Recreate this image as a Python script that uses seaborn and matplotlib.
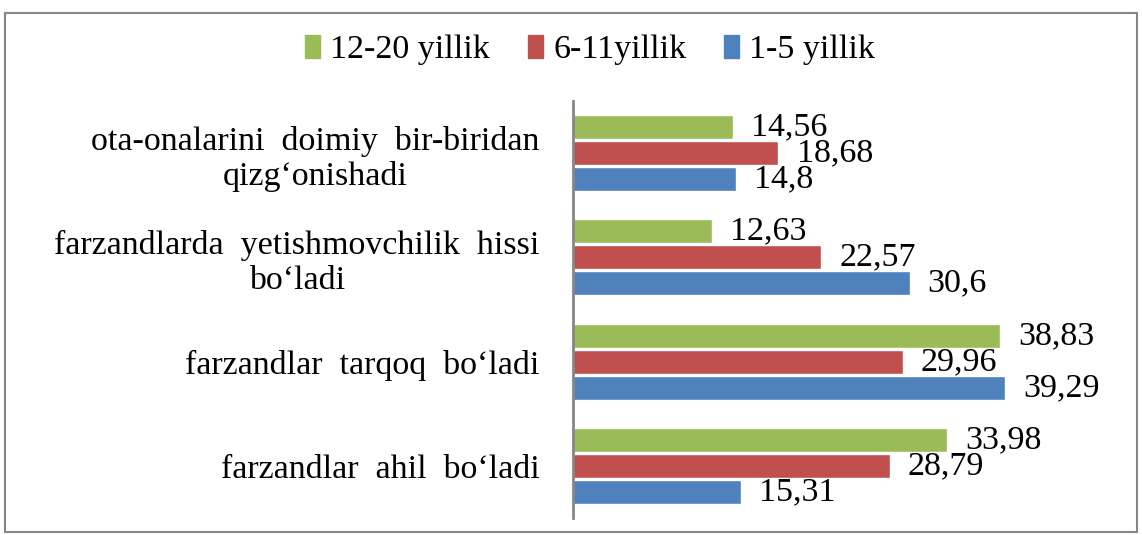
import matplotlib
matplotlib.use("Agg")
import matplotlib.pyplot as plt
import seaborn as sns
import pandas as pd
from matplotlib.patches import Rectangle

# data
kategoriyalar = [
    "ota-onalarini  doimiy  bir-biridan\nqizg\u2018onishadi",
    "farzandlarda  yetishmovchilik  hissi\nbo\u2018ladi",
    "farzandlar  tarqoq  bo\u2018ladi",
    "farzandlar  ahil  bo\u2018ladi",
]
guruhlar = ["12-20 yillik", "6-11yillik", "1-5 yillik"]
yil_12_20 = [14.56, 12.63, 38.83, 33.98]
yil_6_11 = [18.68, 22.57, 29.96, 28.79]
yil_1_5 = [14.8, 30.6, 39.29, 15.31]
ranglar = ["#9BBB59", "#C0504D", "#4F81BD"]

rows = []
for g, vals in zip(guruhlar, [yil_12_20, yil_6_11, yil_1_5]):
    for k, v in zip(kategoriyalar, vals):
        rows.append({"kategoriya": k, "guruh": g, "qiymat": v})
df = pd.DataFrame(rows)

sns.set_theme(style="white")
plt.rcParams["font.family"] = ["Liberation Serif", "DejaVu Serif"]
fs = 24.5

fig = plt.figure(figsize=(11.42, 5.35), dpi=100)
ax = fig.add_axes([573 / 1142, 17 / 535, 539 / 1142, 417 / 535])

sns.barplot(data=df, y="kategoriya", x="qiymat", hue="guruh",
            order=kategoriyalar, hue_order=guruhlar, palette=ranglar,
            saturation=1, width=0.75, gap=0.08, orient="h", ax=ax, legend=False)

for c, vals in zip(ax.containers, [yil_12_20, yil_6_11, yil_1_5]):
    ax.bar_label(c, labels=[str(v).replace(".", ",") for v in vals],
                 padding=13, fontsize=fs, color="black")

ax.set_xlim(0, 49)
ax.set_xlabel("")
ax.set_ylabel("")
ax.set_xticks([])
ax.tick_params(axis="y", length=0, pad=24, labelsize=fs, labelcolor="black")
for t in ax.get_yticklabels():
    t.set_multialignment("center")
for s in ["top", "right", "bottom"]:
    ax.spines[s].set_visible(False)
ax.spines["left"].set_color("#868686")
ax.spines["left"].set_linewidth(2)

handles = [Rectangle((0, 0), 1, 1, color=c) for c in ranglar]
fig.legend(handles, guruhlar, loc="center", bbox_to_anchor=(590 / 1142, 1 - 50 / 535),
           ncol=3, frameon=False, fontsize=fs, handlelength=0.45, handleheight=0.7,
           handletextpad=0.3, columnspacing=1.1, labelcolor="black")

fig.patches.append(Rectangle((5 / 1142, 3 / 535), 1132 / 1142, 519 / 535,
                             transform=fig.transFigure, fill=False,
                             edgecolor="#868686", linewidth=1.5))

fig.savefig("out.png", dpi=100)
